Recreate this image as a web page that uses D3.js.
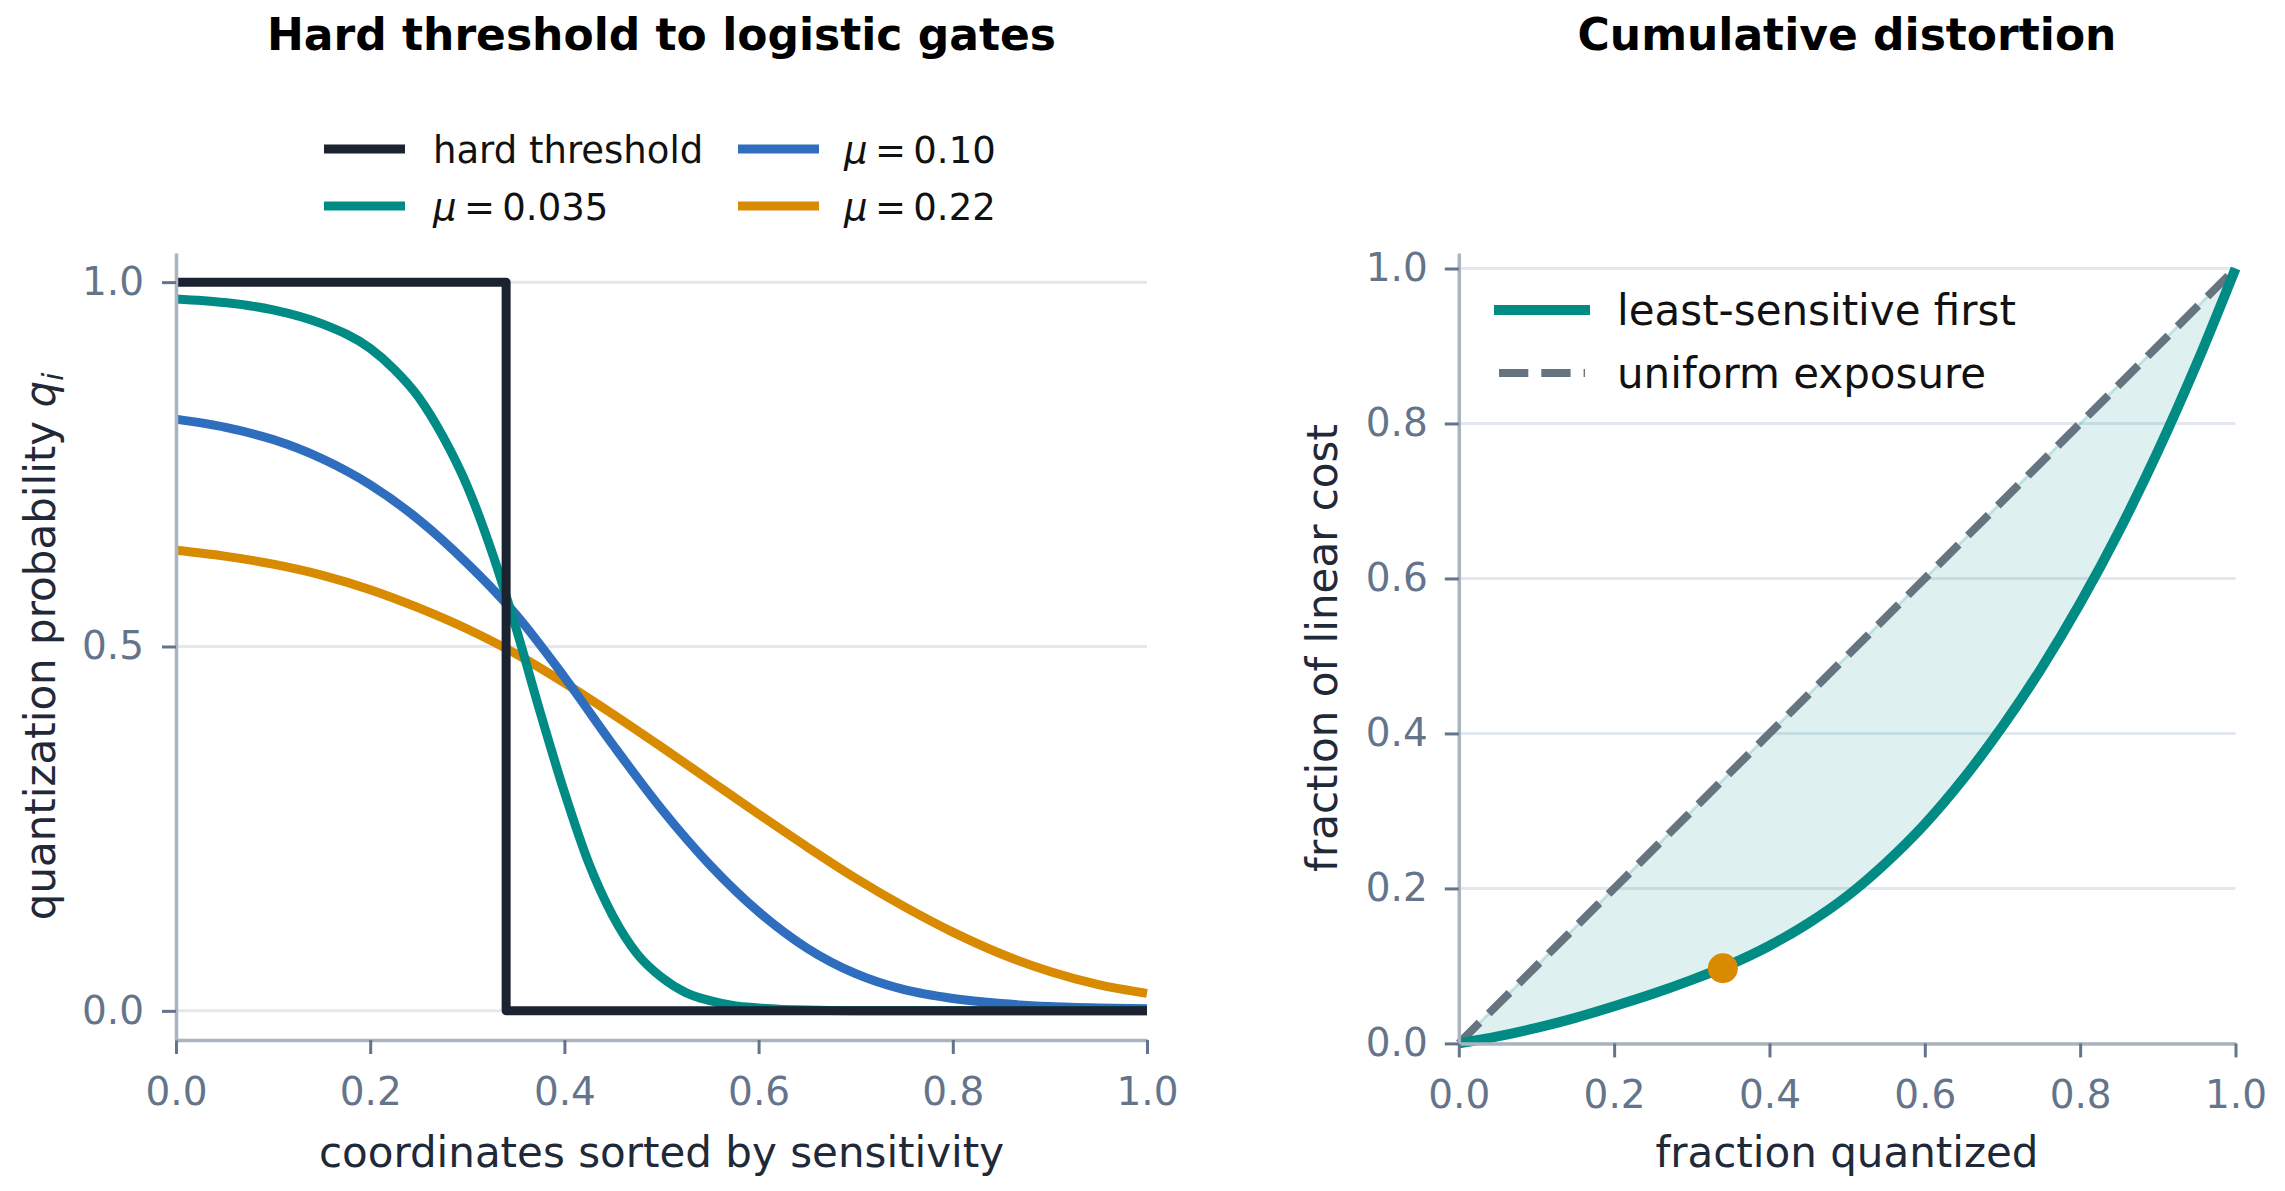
<!DOCTYPE html>
<html><head><meta charset="utf-8">
<script src="https://cdn.jsdelivr.net/npm/d3@7"></script>
<style>
html,body{margin:0;padding:0;background:#fff;}
svg{display:block;font-family:'DejaVu Sans',sans-serif;}
</style>
</head><body>
<svg id="chart" width="2285" height="1191"></svg>
<script>
// ---------- data ----------
const gateX = [0,0.05,0.10,0.15,0.20,0.25,0.30,0.35,0.40,0.45,0.50,0.55,0.60,0.65,0.70,0.75,0.80,0.85,0.90,0.95,1.00];
const gateQ010 = [0.812,0.801,0.784,0.758,0.722,0.674,0.614,0.544,0.458,0.365,0.277,0.200,0.136,0.086,0.051,0.029,0.017,0.010,0.006,0.004,0.003];
const gateQ022 = [0.632,0.624,0.613,0.598,0.578,0.553,0.524,0.490,0.450,0.407,0.362,0.316,0.270,0.225,0.182,0.143,0.108,0.078,0.054,0.036,0.024];
const gateX035 = [0,0.05,0.10,0.15,0.20,0.225,0.25,0.275,0.30,0.325,0.35,0.375,0.40,0.425,0.45,0.475,0.50,0.525,0.55,0.575,0.60,0.65,0.70,0.80,0.90,1.00];
const gateQ035 = [0.977,0.972,0.962,0.943,0.909,0.880,0.842,0.788,0.720,0.631,0.526,0.410,0.300,0.203,0.130,0.078,0.046,0.025,0.014,0.007,0.004,0.001,0.0002,0,0,0];
const hardX = [0,0.34,0.34,1];
const hardQ = [1,1,0,0];

const fracX = [0,0.05,0.10,0.15,0.20,0.25,0.30,0.35,0.40,0.45,0.50,0.55,0.60,0.65,0.70,0.75,0.80,0.85,0.90,0.95,1.00];
const costLeastFirst = [0,0.009,0.020,0.033,0.048,0.064,0.082,0.102,0.126,0.155,0.190,0.233,0.283,0.342,0.409,0.484,0.568,0.661,0.764,0.877,1.0];
const uniformX = [0,1];
const uniformY = [0,1];
const markerX = 0.34, markerY = 0.097;

const leftXTicks = [0,0.2,0.4,0.6,0.8,1.0];
const leftYTicks = [0,0.5,1.0];
const rightXTicks = [0,0.2,0.4,0.6,0.8,1.0];
const rightYTicks = [0,0.2,0.4,0.6,0.8,1.0];

const leftLegendNames = ["hard threshold","μ = 0.035","μ = 0.10","μ = 0.22"];
const rightLegendNames = ["least-sensitive first","uniform exposure"];

// ---------- styles ----------
const C = {dark:"#1b2230", teal:"#008b85", blue:"#2f6ebf", orange:"#d88a00", dash:"#667380",
  tick:"#64748b", spine:"#aab4c0", grid:"#e3e8ee", label:"#1f2937"};

const svg = d3.select("#chart");
svg.append("rect").attr("width",2285).attr("height",1191).attr("fill","#fff");

const xL = d3.scaleLinear([0,1],[176,1147]);
const yL = d3.scaleLinear([-0.04,1.04],[1040,253]);
const xR = d3.scaleLinear([0,1],[1458.8,2235.5]);
const yR = d3.scaleLinear([0,1.02],[1043.4,253]);

function styleAxis(g){
  g.select(".domain").attr("stroke",C.spine).attr("stroke-width",3.5);
  g.selectAll(".tick line").attr("stroke",C.tick).attr("stroke-width",3);
  g.selectAll(".tick text").attr("fill",C.tick).attr("font-size",39).attr("font-family","DejaVu Sans");
}
function grid(g, xs, ys, ticks){
  g.selectAll("line").data(ticks).join("line")
    .attr("x1",xs.range()[0]).attr("x2",xs.range()[1])
    .attr("y1",d=>ys(d)).attr("y2",d=>ys(d))
    .attr("stroke",C.grid).attr("stroke-width",3);
}

// ---------- left panel ----------
const gl = svg.append("g");
grid(gl.append("g"), xL, yL, leftYTicks);

const lineL = d3.line().x(d=>xL(d[0])).y(d=>yL(d[1]));
const leftSeries = [
  {x:hardX, y:hardQ, color:C.dark, curve:d3.curveLinear},
  {x:gateX035, y:gateQ035, color:C.teal, curve:d3.curveMonotoneX},
  {x:gateX, y:gateQ010, color:C.blue, curve:d3.curveMonotoneX},
  {x:gateX, y:gateQ022, color:C.orange, curve:d3.curveMonotoneX}
];
leftSeries.slice().reverse().forEach(s=>{
  gl.append("path").datum(s.x.map((v,i)=>[v,s.y[i]]))
    .attr("d", lineL.curve(s.curve))
    .attr("fill","none").attr("stroke",s.color).attr("stroke-width",9)
    .attr("stroke-linejoin","round").attr("stroke-linecap","butt");
});

gl.append("g").attr("transform",`translate(0,1040)`)
  .call(d3.axisBottom(xL).tickValues(leftXTicks).tickFormat(d3.format(".1f")).tickSize(14).tickSizeOuter(0).tickPadding(23))
  .call(styleAxis);
gl.append("g").attr("transform",`translate(176,0)`)
  .call(d3.axisLeft(yL).tickValues(leftYTicks).tickFormat(d3.format(".1f")).tickSize(14).tickSizeOuter(0).tickPadding(18))
  .call(styleAxis);

// titles & labels
svg.append("text").attr("x",661.5).attr("y",50).attr("text-anchor","middle")
  .attr("font-size",44).attr("font-weight","bold").attr("fill","#000").text("Hard threshold to logistic gates");
svg.append("text").attr("x",661.5).attr("y",1167).attr("text-anchor","middle")
  .attr("font-size",42).attr("fill",C.label).text("coordinates sorted by sensitivity");
const yl = svg.append("text").attr("transform","translate(55,646.5) rotate(-90)").attr("text-anchor","middle")
  .attr("font-size",42).attr("fill",C.label);
yl.append("tspan").text("quantization probability ");
yl.append("tspan").attr("font-style","italic").text("q");
yl.append("tspan").attr("font-style","italic").attr("font-size",29).attr("dy",8).text("i");

// left legend
const legPos = [
  {lx:324, tx:433, y:149},
  {lx:324, tx:433, y:206},
  {lx:738, tx:844, y:149},
  {lx:738, tx:844, y:206}
];
leftSeries.forEach((s,i)=>{
  const p = legPos[i];
  svg.append("line").attr("x1",p.lx).attr("x2",p.lx+81).attr("y1",p.y).attr("y2",p.y)
    .attr("stroke",s.color).attr("stroke-width",9);
  const t = svg.append("text").attr("x",p.tx).attr("y",p.y+13.5).attr("font-size",37).attr("fill","#111");
  const name = leftLegendNames[i];
  if(name.startsWith("μ")){
    t.append("tspan").attr("font-style","italic").text("μ");
    t.append("tspan").text(name.slice(1).replace(/ /g,"\u2009"));
  } else t.text(name);
});

// ---------- right panel ----------
const gr = svg.append("g");
grid(gr.append("g"), xR, yR, rightYTicks);

const areaData = fracX.map((v,i)=>({x:v, lo:costLeastFirst[i], hi:v}));
gr.append("path").datum(areaData)
  .attr("d", d3.area().x(d=>xR(d.x)).y0(d=>yR(d.lo)).y1(d=>yR(d.hi)).curve(d3.curveMonotoneX))
  .attr("fill",C.teal).attr("fill-opacity",0.13)
  .attr("stroke",C.teal).attr("stroke-opacity",0.18).attr("stroke-width",3);

gr.append("path").datum(uniformX.map((v,i)=>[v,uniformY[i]]))
  .attr("d", d3.line().x(d=>xR(d[0])).y(d=>yR(d[1])))
  .attr("fill","none").attr("stroke",C.dash).attr("stroke-width",8).attr("stroke-dasharray","29.3,13");

gr.append("path").datum(fracX.map((v,i)=>[v,costLeastFirst[i]]))
  .attr("d", d3.line().x(d=>xR(d[0])).y(d=>yR(d[1])).curve(d3.curveMonotoneX))
  .attr("fill","none").attr("stroke",C.teal).attr("stroke-width",10).attr("stroke-linejoin","round");

gr.append("circle").attr("cx",xR(markerX)).attr("cy",yR(markerY)).attr("r",15).attr("fill",C.orange);

gr.append("g").attr("transform",`translate(0,${yR(0)})`)
  .call(d3.axisBottom(xR).tickValues(rightXTicks).tickFormat(d3.format(".1f")).tickSize(14).tickSizeOuter(0).tickPadding(23))
  .call(styleAxis);
gr.append("g").attr("transform",`translate(${xR(0)},0)`)
  .call(d3.axisLeft(yR).tickValues(rightYTicks).tickFormat(d3.format(".1f")).tickSize(14).tickSizeOuter(0).tickPadding(17))
  .call(styleAxis);

svg.append("text").attr("x",1847).attr("y",50).attr("text-anchor","middle")
  .attr("font-size",44).attr("font-weight","bold").attr("fill","#000").text("Cumulative distortion");
svg.append("text").attr("x",1847).attr("y",1167).attr("text-anchor","middle")
  .attr("font-size",42).attr("fill",C.label).text("fraction quantized");
svg.append("text").attr("transform","translate(1337,648) rotate(-90)").attr("text-anchor","middle")
  .attr("font-size",42).attr("fill",C.label).text("fraction of linear cost");

// right legend
svg.append("line").attr("x1",1494).attr("x2",1590).attr("y1",310).attr("y2",310)
  .attr("stroke",C.teal).attr("stroke-width",10);
svg.append("line").attr("x1",1499).attr("x2",1585).attr("y1",373).attr("y2",373)
  .attr("stroke",C.dash).attr("stroke-width",8).attr("stroke-dasharray","29.3,13");
svg.append("text").attr("x",1617).attr("y",325).attr("font-size",42).attr("fill","#111").text(rightLegendNames[0]);
svg.append("text").attr("x",1617).attr("y",388).attr("font-size",42).attr("fill","#111").text(rightLegendNames[1]);
</script>
</body></html>
